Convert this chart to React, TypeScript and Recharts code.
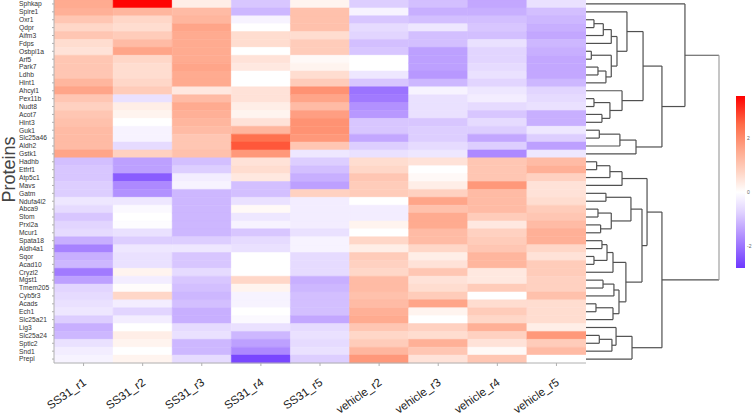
import React from 'react';
import { BarChart, Bar, XAxis, YAxis, Cell, ComposedChart, ReferenceLine } from 'recharts';

const proteins = [
  'Sphkap', 'Spire1', 'Oxr1', 'Qdpr', 'Aifm3', 'Fdps', 'Osbpl1a', 'Arf5', 'Park7', 'Ldhb',
  'Hint1', 'Ahcyl1', 'Pex11b', 'Nudt8', 'Acot7', 'Hint3', 'Guk1', 'Slc25a46', 'Aldh2', 'Gstk1',
  'Hadhb', 'Etfrf1', 'Atp5c1', 'Mavs', 'Gatm', 'Ndufa4l2', 'Abca9', 'Stom', 'Prxl2a', 'Mcur1',
  'Spata18', 'Aldh4a1', 'Sqor', 'Acad10', 'Cryzl2', 'Mgst1', 'Tmem205', 'Cyb5r3', 'Acads', 'Ech1',
  'Slc25a21', 'Lig3', 'Slc25a24', 'Sptlc2', 'Snd1', 'Prepl',
];

const samples = ['SS31_r1', 'SS31_r2', 'SS31_r3', 'SS31_r4', 'SS31_r5', 'vehicle_r2', 'vehicle_r3', 'vehicle_r4', 'vehicle_r5'];

const SS31_r1 = [1.5, 1.4, 1.0, 0.7, 1.0, 0.6, 0.5, 1.0, 1.0, 1.0, 1.3, 1.6, 1.0, 0.8, 1.0, 1.1, 1.2, 1.2, 1.2, 1.6,
  -1.0, -0.9, -0.9, -0.8, -0.8, -0.4, -0.6, -0.9, -0.7, -0.6, -1.2, -1.8, -1.2, -1.1, -1.9, -1.4, -0.7, -0.6, -0.5, -0.4,
  -0.8, -1.2, -1.1, -0.5, -0.3, -0.2];
const SS31_r2 = [3.5, 1.3, 0.7, 0.6, 0.9, 1.2, 1.6, 0.7, 0.6, 0.6, 0.7, 0.9, -0.5, 0.3, 0.2, 0.0, -0.2, -0.2, -0.6, 0.8,
  -1.4, -1.4, -2.3, -1.7, -1.6, -0.4, -0.1, 0.0, -0.05, -0.5, -0.8, -0.4, -0.5, -0.5, 0.2, -0.3, 0.05, 0.7, -0.3, -0.7,
  -0.3, 0.0, 0.3, 0.2, 0.0, 0.2];
const SS31_r3 = [0.3, 1.2, 1.3, 1.6, 1.5, 1.5, 1.5, 1.5, 1.6, 1.5, 1.5, 0.4, 1.2, 1.5, 1.4, 1.3, 1.2, 1.0, 1.0, 1.1,
  -1.0, -0.8, -0.3, -0.2, -1.1, -1.1, -1.1, -1.1, -1.1, -1.1, -0.8, -0.4, -0.9, -0.9, -0.6, -0.9, -1.0, -1.1, -1.0, -1.2,
  -1.2, -0.6, -0.5, -1.1, -1.1, -0.6];
const SS31_r4 = [-0.9, -1.1, -0.2, 0.0, 0.6, 0.6, 0.0, 0.5, 0.4, 0.0, 0.0, 0.5, 0.5, 0.3, 0.2, 0.5, 1.3, 2.4, 2.7, 1.8,
  0.5, 0.6, 0.4, -1.0, -1.0, -0.5, 0.1, -0.4, -0.2, -0.9, -0.6, -0.5, 0.0, 0.0, 0.0, 0.7, 0.2, -0.2, -0.2, 0.0,
  -0.1, -0.5, -1.1, -1.4, -1.7, -2.6];
const SS31_r5 = [0.2, 1.1, 1.1, 1.1, 0.6, 0.9, 0.9, 0.1, 0.2, 0.6, 0.9, 1.9, 1.6, 1.2, 1.7, 1.9, 1.9, 1.8, 1.0, -0.4,
  -0.8, -1.0, -1.2, -1.4, 0.8, -0.3, -0.3, -0.3, -0.3, -0.5, -0.2, -0.2, -0.6, -0.6, -0.6, -1.2, -1.1, -1.0, -1.0, -1.0,
  -1.3, -0.6, -0.5, -0.6, -0.5, -0.8];
const vehicle_r2 = [-0.8, -0.2, -0.9, -0.6, -0.7, -1.0, -0.9, 0.0, 0.0, -0.4, -0.9, -2.0, -1.9, -1.6, -1.5, -0.9, -0.9, -1.3, -0.8, -0.5,
  0.6, 0.7, 1.0, 0.9, 0.9, 0.0, -0.3, -0.3, 0.2, 0.0, 0.7, 0.3, 0.9, 0.8, 0.7, 1.2, 1.2, 1.1, 1.2, 1.4,
  1.5, 1.0, 0.7, 0.9, 1.3, 1.8];
const vehicle_r3 = [-1.0, -1.2, -1.0, -0.4, -1.0, -1.0, -1.4, -1.4, -1.4, -1.5, -1.1, -0.2, -0.5, -0.5, -0.5, -0.9, -0.8, -0.8, -0.6, -0.4,
  0.5, 0.0, 0.1, 0.3, 0.8, 1.6, 1.1, 1.5, 1.5, 1.2, 1.2, 0.7, 0.3, 0.5, 1.0, 0.5, 0.6, 0.9, 1.6, 0.2,
  0.0, 0.8, 0.6, 1.4, 1.0, 0.5];
const vehicle_r4 = [-1.3, -1.2, -1.0, -0.9, -1.0, -0.5, -0.7, -0.7, -0.6, -0.5, -0.7, -0.4, -0.3, -0.6, -0.9, -0.6, -0.8, -1.3, -0.8, -1.7,
  1.0, 1.0, 1.0, 1.8, 1.2, 1.2, 1.2, 0.9, 0.4, 0.8, 0.9, 1.0, 1.3, 1.3, 0.4, 0.4, 0.9, 0.0, 0.6, 0.9,
  0.7, 1.4, 0.8, 0.5, 0.1, 1.0];
const vehicle_r5 = [-0.5, -1.0, -1.1, -1.2, -1.3, -1.1, -1.2, -1.3, -1.3, -1.3, -1.1, -0.7, -0.6, -0.5, -1.2, -1.2, -0.4, -0.8, -1.4, -0.4,
  1.2, 1.4, 0.8, 0.5, 0.5, 0.6, 0.9, 1.0, 1.2, 1.4, 1.4, 0.7, 0.5, 0.9, 0.9, 0.8, 0.8, 1.1, 0.6, 0.6,
  0.6, 0.3, 1.8, 0.9, 1.2, 0.0];

const sampleValues = [SS31_r1, SS31_r2, SS31_r3, SS31_r4, SS31_r5, vehicle_r2, vehicle_r3, vehicle_r4, vehicle_r5];

const scaleMin = -2.8;
const scaleMax = 3.55;
const scaleTicks = [-2, 0, 2];
const colorStops: [number, string][] = [
  [-2.8, '#6e38ff'], [-2.2, '#9064ff'], [-1.5, '#b898ff'], [-0.75, '#e0d2ff'], [0, '#ffffff'],
  [0.75, '#ffd4c4'], [1.5, '#ffab90'], [2.5, '#ff6c48'], [3.55, '#ff0000'],
];

// dendrogram (leaves = row indices, [left, right, height])
type Node = number | [Node, Node, number];
const G1: Node = [[[2, 3, 0.6], 4, 1.3], 5, 1.9];
const G2: Node = [[6, 7, 0.4], [[8, 9, 0.9], 10, 1.5], 1.9];
const E: Node = [1, [G1, G2, 2.33], 3.08];
const F: Node = [11, [[12, 13, 0.6], [14, 15, 1.2], 1.8], 2.71];
const D: Node = [[[16, 17, 1.0], 18, 2.55], 19, 3.76];
const A: Node = [0, [[E, F, 4.29], D, 5.71], 7.44];
const I1: Node = [[[20, 21, 0.8], 22, 1.8], 23, 2.71];
const I2a: Node = [[24, 25, 1.5], [[26, 27, 0.9], [28, 29, 1.1], 1.9], 3.38];
const I2b1: Node = [[[30, 31, 1.2], [32, 33, 0.6], 1.58], 34, 2.03];
const I2b2: Node = [[[35, 36, 1.28], 37, 2.1], [[38, 39, 0.75], 40, 2.03], 2.48];
const I: Node = [I1, [I2a, [I2b1, I2b2, 3.0], 4.21], 4.59];
const J: Node = [[41, [[42, 43, 1.0], 44, 1.95], 2.26], 45, 3.46];
const H: Node = [I, J, 5.71];
const dendrogram: Node = [A, H, 10];
const dendroMax = 10;

function hexToRgb(h: string) {
  return [parseInt(h.slice(1, 3), 16), parseInt(h.slice(3, 5), 16), parseInt(h.slice(5, 7), 16)];
}
function colorFor(v: number) {
  if (v <= colorStops[0][0]) return colorStops[0][1];
  for (let i = 1; i < colorStops.length; i++) {
    const [v1, c1] = colorStops[i];
    const [v0, c0] = colorStops[i - 1];
    if (v <= v1) {
      const t = (v - v0) / (v1 - v0);
      const a = hexToRgb(c0), b = hexToRgb(c1);
      const m = a.map((x, k) => Math.round(x + (b[k] - x) * t));
      return `rgb(${m[0]},${m[1]},${m[2]})`;
    }
  }
  return colorStops[colorStops.length - 1][1];
}

type Seg = { x1: number; y1: number; x2: number; y2: number; root: boolean };
function buildSegs(node: Node, segs: Seg[], isRoot: boolean): { y: number; h: number } {
  if (typeof node === 'number') return { y: node + 0.5, h: 0 };
  const [l, r, h] = node;
  const a = buildSegs(l, segs, false);
  const b = buildSegs(r, segs, false);
  segs.push({ x1: a.h, y1: a.y, x2: h, y2: a.y, root: false });
  segs.push({ x1: b.h, y1: b.y, x2: h, y2: b.y, root: false });
  segs.push({ x1: h, y1: a.y, x2: h, y2: b.y, root: isRoot });
  return { y: (a.y + b.y) / 2, h };
}

const heatData = proteins.map((p) => {
  const row: Record<string, any> = { protein: p };
  samples.forEach((_, j) => { row['c' + j] = 1; });
  return row;
});

const font = '"Liberation Sans", Arial, sans-serif';

const YTick = (props: any) => {
  const { x, y, payload } = props;
  return (
    <text x={x - 31} y={y} dy="0.35em" textAnchor="start" fontSize={6.7} fill="#333" fontFamily={font}>
      {payload.value}
    </text>
  );
};

const XTick = (props: any) => {
  const { x, y, payload } = props;
  const label = samples[Math.floor(payload.value)];
  const ax = x + 3.5;
  const ay = y + 16;
  return (
    <g transform={`translate(${ax},${ay})`}>
      <text x={0} y={0} transform="rotate(-35)" textAnchor="end" fontSize={11.5} fill="#222" fontFamily={font}>
        {label}
      </text>
    </g>
  );
};

const YLabel = (props: any) => {
  const vb = props.viewBox || { x: 0, y: 0, height: 363 };
  const lx = vb.x + 15;
  const ly = vb.y + vb.height / 2 - 12;
  return (
    <g transform={`translate(${lx},${ly})`}>
      <text x={0} y={0} transform="rotate(-90)" textAnchor="middle" fontSize={18} fill="#444" fontFamily={font}>
        Proteins
      </text>
    </g>
  );
};

export default function App() {
  const segs: Seg[] = [];
  buildSegs(dendrogram, segs, true);
  const xTicks = samples.map((_, j) => j + 0.5);
  const cbData = [{ name: 'scale', range: [scaleMin, scaleMax] }];
  const span = scaleMax - scaleMin;

  return (
    <div style={{ position: 'absolute', left: 0, top: 0, width: 752, height: 417, background: '#fff', overflow: 'hidden' }}>
      <div style={{ position: 'absolute', left: 0, top: 0 }}>
        <BarChart width={586} height={417} data={heatData} layout="vertical" barCategoryGap={0}
          margin={{ top: 0, right: 0, bottom: 0, left: 0 }} style={{ overflow: 'visible' }}>
          <XAxis type="number" domain={[0, 9]} ticks={xTicks} interval={0} height={54} tick={<XTick />} tickSize={3}
            stroke="#b0b0b0" allowDataOverflow />
          <YAxis type="category" dataKey="protein" width={54} interval={0} tick={<YTick />} tickSize={2}
            stroke="#b0b0b0" label={<YLabel />} />
          {samples.map((s, j) => (
            <Bar key={s} dataKey={'c' + j} stackId="a" isAnimationActive={false}>
              {proteins.map((p, i) => {
                const c = colorFor(sampleValues[j][i]);
                return <Cell key={p} fill={c} stroke={c} strokeWidth={0.5} />;
              })}
            </Bar>
          ))}
        </BarChart>
      </div>
      <div style={{ position: 'absolute', left: 586, top: 0 }}>
        <ComposedChart width={134} height={417} data={[{ x: 0, y: 0 }, { x: dendroMax, y: proteins.length }]}
          margin={{ top: 0, right: 1, bottom: 54, left: 0 }}>
          <XAxis type="number" dataKey="x" domain={[0, dendroMax]} hide />
          <YAxis type="number" dataKey="y" domain={[0, proteins.length]} reversed hide />
          {segs.map((s, k) => (
            <ReferenceLine key={k} ifOverflow="visible"
              segment={[{ x: s.x1, y: s.y1 }, { x: s.x2, y: s.y2 }]}
              stroke={s.root ? '#a0a0a0' : '#505050'} strokeWidth={1.2} />
          ))}
        </ComposedChart>
      </div>
      <div style={{ position: 'absolute', left: 736, top: 0 }}>
        <BarChart width={24} height={417} data={cbData} barCategoryGap={0} margin={{ top: 96, right: 0, bottom: 149, left: 0 }}>
          <defs>
            <linearGradient id="cbGrad" x1="0" y1="0" x2="0" y2="1">
              {colorStops.slice().reverse().map(([v, c]) => (
                <stop key={v} offset={(scaleMax - v) / span} stopColor={c} />
              ))}
            </linearGradient>
          </defs>
          <XAxis dataKey="name" hide />
          <YAxis orientation="right" type="number" domain={[scaleMin, scaleMax]} ticks={scaleTicks} width={15}
            axisLine={false} tickLine={false} tickSize={0} tickMargin={2}
            tick={{ fontSize: 5, fill: '#666', fontFamily: font }} allowDataOverflow />
          <Bar dataKey="range" fill="url(#cbGrad)" isAnimationActive={false} />
        </BarChart>
      </div>
    </div>
  );
}
